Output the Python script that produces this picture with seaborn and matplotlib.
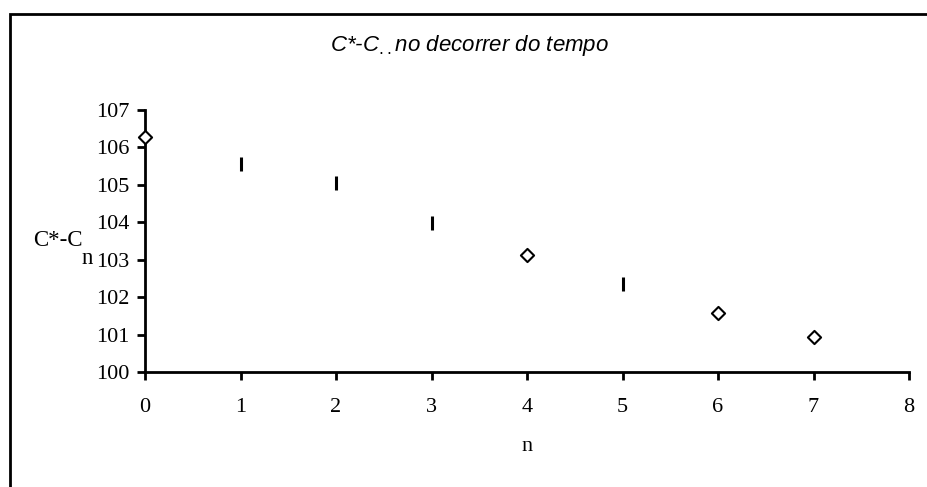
import seaborn as sns
import pandas as pd
import matplotlib.pyplot as plt
from matplotlib.patches import Rectangle

n_diamond = [0, 4, 6, 7]
c_diamond = [106.28, 103.13, 101.58, 100.94]
n_bar = [1, 2, 3, 5]
c_bar = [105.56, 105.05, 103.98, 102.35]

sns.set_style("white")
plt.rcParams['font.family'] = ['Liberation Serif', 'DejaVu Serif']
plt.rcParams['text.color'] = 'black'
plt.rcParams['xtick.color'] = 'black'
plt.rcParams['ytick.color'] = 'black'

diamond_data = pd.DataFrame({"n": n_diamond, "C": c_diamond})
bar_data = pd.DataFrame({"n": n_bar, "C": c_bar})

fig = plt.figure(figsize=(9.27, 4.87), dpi=100)
ax = fig.add_axes([145 / 927, 1 - 372 / 487, (909 - 145) / 927, (372 - 110) / 487])

sns.scatterplot(x="n", y="C", data=diamond_data, marker="D", s=45, facecolor="white",
                edgecolor="black", linewidth=1.5, ax=ax, clip_on=False, zorder=3)
sns.scatterplot(x="n", y="C", data=bar_data, marker="|", s=110, color="black",
                linewidth=2.2, ax=ax, clip_on=False, zorder=3)

ax.set_xlim(0, 8)
ax.set_ylim(100, 107)
ax.set_xticks(range(0, 9))
ax.set_yticks(range(100, 108))
sns.despine(ax=ax)
for s in ["left", "bottom"]:
    ax.spines[s].set_linewidth(2)
    ax.spines[s].set_color("black")
ax.tick_params(axis="both", direction="out", length=6, width=2, color="black",
               labelcolor="black", labelsize=16, bottom=True, left=True)
ax.tick_params(axis="x", pad=13)
ax.tick_params(axis="y", pad=5)
ax.set_xlabel("n", fontsize=16, labelpad=14, color="black")
ax.set_ylabel("")
fig.text(33 / 927, 1 - 241 / 487, "C*-C", fontsize=16.5, ha="left", va="center")
fig.text(82 / 927, 1 - 258 / 487, "n", fontsize=16.5, ha="left", va="center")

fig.text(470 / 927, 1 - 46 / 487, "C*-C$_{..}$no decorrer do tempo", fontsize=16,
         style="italic", family=["Liberation Sans", "DejaVu Sans"], ha="center", va="center")

fig.patches.append(Rectangle((10 / 927, -0.05), 1.0, 1 - 14 / 487 + 0.05, transform=fig.transFigure,
                             fill=False, edgecolor="black", linewidth=2, figure=fig))

plt.savefig("out.png", dpi=100)
plt.close()
